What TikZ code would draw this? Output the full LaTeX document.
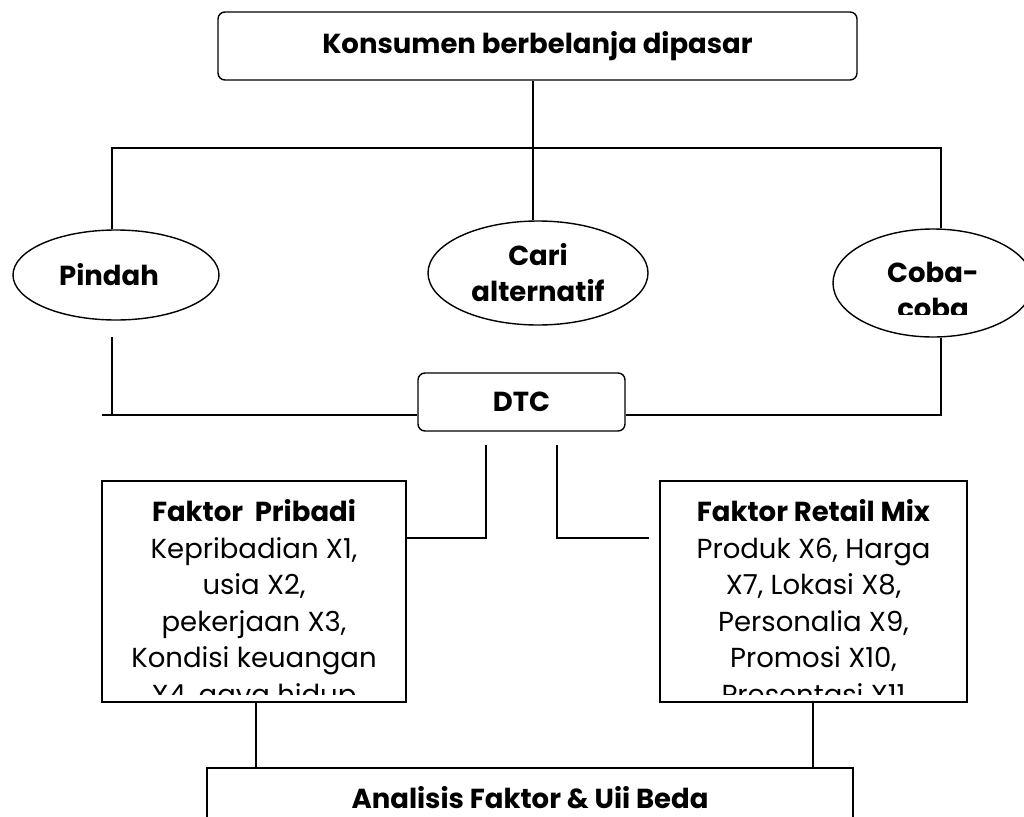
\documentclass[tikz,border=0pt]{standalone}
\usepackage{fontspec}
\setmainfont{Poppins}
\usetikzlibrary{shapes.geometric}
\begin{document}
\begin{tikzpicture}[x=1pt,y=-1pt,line width=1.4pt,
  rbox/.style={draw,rounded corners=7pt,inner sep=0pt},
  sbox/.style={draw,inner sep=0pt},
  ell/.style={draw,ellipse,inner sep=0pt},
  lbl/.style={align=center,inner sep=0pt,font=\fontsize{27.5}{36.5}\selectfont},
  blbl/.style={lbl,font=\fontsize{27.5}{36}\selectfont\bfseries}]
\useasboundingbox (0,0) rectangle (1024,816);
% nodes
\node[rbox,minimum width=639pt,minimum height=68pt,blbl] (top) at (537.5,46) {Konsumen berbelanja dipasar};
\node[ell,minimum width=206pt,minimum height=90pt] (pindah) at (116,275) {};
\node[ell,minimum width=220pt,minimum height=104pt] (cari) at (538,273) {};
\node[ell,minimum width=200pt,minimum height=108pt] (coba) at (933,283) {};
\node[blbl] (pindahtxt) at (109,275) {Pindah};
\node[blbl] (caritxt) at (cari) {Cari\\alternatif};
\begin{scope}
  \clip (820,220) rectangle (1024,314);
  \node[blbl,anchor=north] (cobatxt) at (933,261) {Coba-\\coba};
\end{scope}
\node[rbox,minimum width=207pt,minimum height=58pt,blbl] (dtc) at (521.5,402) {DTC};
\node[sbox,minimum width=304pt,minimum height=221pt] (prib) at (254,591.5) {};
\node[sbox,minimum width=307pt,minimum height=221pt] (retail) at (813.5,591.5) {};
\begin{scope}
  \clip (102,481) rectangle (406,694);
  \node[lbl,anchor=north] (pribtxt) at (254,499) {\bfseries Faktor\ \ Pribadi\\Kepribadian X1,\\usia X2,\\pekerjaan X3,\\Kondisi keuangan\\X4, gaya hidup};
\end{scope}
\begin{scope}
  \clip (660,481) rectangle (967,694);
  \node[lbl,anchor=north] (retailtxt) at (813.5,499) {\bfseries Faktor Retail Mix\\Produk X6, Harga\\X7, Lokasi X8,\\Personalia X9,\\Promosi X10,\\Presentasi X11};
\end{scope}
\node[sbox,minimum width=646pt,minimum height=100pt] (ana) at (530,818) {};
\node[blbl,anchor=base] (anatxt) at (530,808) {Analisis Faktor \& Uii Beda};
% junction coordinates
\coordinate (jL) at (112,148);
\coordinate (jM) at (533,148);
\coordinate (jR) at (941,148);
\coordinate (aL) at (112,337);
\coordinate (bL) at (102,415);
\coordinate (cR) at (941,415);
\coordinate (dL) at (486,445);
\coordinate (eL) at (486,538);
\coordinate (dR) at (557,445);
\coordinate (eR) at (649,538);
\coordinate (fL) at (256,702);
\coordinate (fR) at (813,702);
% connectors
\draw (jM |- top.south) -- (jM |- cari.north);
\draw (jL |- pindah.north) -- (jL) -- (jR) -- (jR |- coba.north);
\draw (aL) -- (aL |- bL);
\draw (bL) -- (bL -| dtc.west);
\draw (jR |- coba.south) -- (cR) -- (cR -| dtc.east);
\draw (dL) -- (eL) -- (eL -| prib.east);
\draw (dR) -- (dR |- eR) -- (eR);
\draw (fL) -- (fL |- ana.north);
\draw (fR) -- (fR |- ana.north);
\end{tikzpicture}
\end{document}
